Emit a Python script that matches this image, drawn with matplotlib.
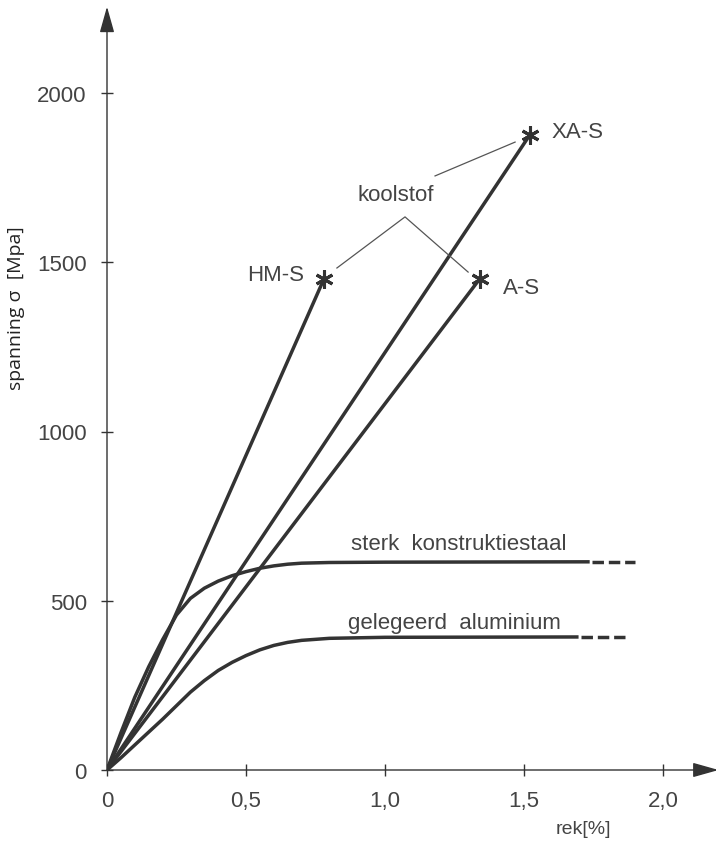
import numpy as np
import matplotlib
matplotlib.use("Agg")
import matplotlib.pyplot as plt

# stress-strain data (rek in %, spanning in MPa)
carbon_names = ["HM-S", "XA-S", "A-S"]
carbon_rek = [0.78, 1.52, 1.34]
carbon_span = [1450, 1875, 1450]

steel_rek = [0, 0.05, 0.1, 0.15, 0.2, 0.25, 0.3, 0.35, 0.4, 0.45, 0.5, 0.55, 0.6, 0.65,
             0.7, 0.8, 1.0, 1.73]
steel_span = [0, 110, 215, 305, 385, 458, 507, 537, 558, 574, 586, 596, 603, 608,
              611, 613, 614, 615]
steel_dash = [1.745, 1.90]

alu_rek = [0, 0.05, 0.1, 0.15, 0.2, 0.25, 0.3, 0.35, 0.4, 0.45, 0.5, 0.55, 0.6, 0.65,
           0.7, 0.8, 1.0, 1.69]
alu_span = [0, 36, 74, 112, 150, 190, 230, 264, 294, 318, 338, 355, 368, 377,
            383, 389, 392, 393]
alu_dash = [1.705, 1.865]

xticks = [0, 0.5, 1.0, 1.5, 2.0]
xtick_labels = ["0", "0,5", "1,0", "1,5", "2,0"]
yticks = [0, 500, 1000, 1500, 2000]

plt.rcParams['font.family'] = ['Liberation Sans', 'DejaVu Sans']
ink = '#333333'
txt = '#444444'

W, H = 716, 845
fig = plt.figure(figsize=(W / 100, H / 100), dpi=100)
x0, y0 = 107, 74
pxx, pxy = 278, 0.3385  # pixels per % and per MPa
xmax, ymax = 2.2, 2255
ax = fig.add_axes([x0 / W, y0 / H, xmax * pxx / W, ymax * pxy / H])
ax.set_xlim(0, xmax)
ax.set_ylim(0, ymax)
for s in ax.spines.values():
    s.set_visible(False)

# axes with arrows
for tip in [(1.0, 0), (0, 1.0)]:
    ax.annotate('', xy=tip, xytext=(0, 0), xycoords='axes fraction',
                arrowprops=dict(arrowstyle='-|>,head_length=1.6,head_width=0.45', color=ink,
                                lw=1.0, shrinkA=0, shrinkB=0), annotation_clip=False)

ax.set_xticks(xticks)
ax.set_xticklabels(xtick_labels)
ax.set_yticks(yticks)
ax.tick_params(direction='inout', length=9, width=1, color=ink, labelsize=16,
               labelcolor=txt)
ax.tick_params(axis='x', pad=10)
ax.tick_params(axis='y', pad=10)

lw = 2.5
# carbon fibres
for name, r, s in zip(carbon_names, carbon_rek, carbon_span):
    ax.plot([0, r], [0, s], color=ink, lw=lw, solid_capstyle='round')
    ax.plot(r, s, marker=(6, 2, 0), ms=13, mew=2.2, color=ink)

# steel and aluminium
ax.plot(steel_rek, steel_span, color=ink, lw=lw, solid_joinstyle='round')
ax.plot(steel_dash, [steel_span[-1]] * 2, color=ink, lw=lw, ls=(0, (3.3, 1.4)))
ax.plot(alu_rek, alu_span, color=ink, lw=lw, solid_joinstyle='round')
ax.plot(alu_dash, [alu_span[-1]] * 2, color=ink, lw=lw, ls=(0, (3.3, 1.4)))

# labels
ax.text(0.71, 1465, "HM-S", ha='right', va='center', fontsize=16, color=txt)
ax.text(1.425, 1424, "A-S", ha='left', va='center', fontsize=16, color=txt)
ax.text(1.60, 1885, "XA-S", ha='left', va='center', fontsize=16, color=txt)
ax.text(1.04, 1700, "koolstof", ha='center', va='center', fontsize=16, color=txt)
ax.plot([0.827, 1.072, 1.299], [1483, 1634, 1471], color='#555555', lw=0.9)
ax.plot([1.18, 1.468], [1755, 1855], color='#555555', lw=0.9)
ax.text(1.266, 668, "sterk  konstruktiestaal", ha='center', va='center', fontsize=16, color=txt)
ax.text(1.248, 437, "gelegeerd  aluminium", ha='center', va='center', fontsize=16, color=txt)

fig.text(583 / W, 1 - 830 / H, "rek[%]", ha='center', va='center', fontsize=14, color=txt)
fig.text(16 / W, 1 - 308 / H, "spanning σ  [Mpa]", rotation=90, ha='center', va='center',
         fontsize=14, color='#222222', family=['Open Sans', 'DejaVu Sans'])

fig.savefig("out.png", dpi=100)
